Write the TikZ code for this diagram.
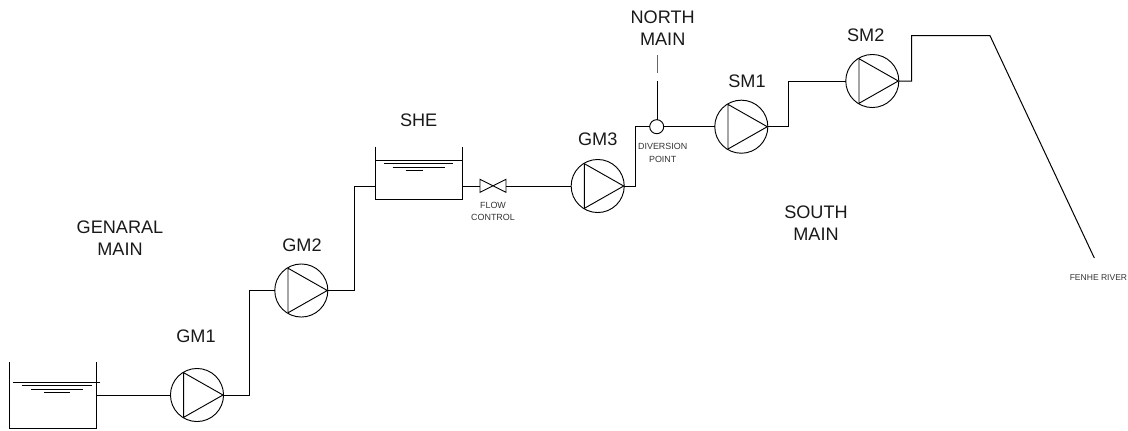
\documentclass[tikz,border=0pt]{standalone}
\usepackage{fontspec}
\setmainfont{Liberation Sans}
\tikzset{
  pipe/.style={line width=0.75pt,black,line join=miter},
  thinline/.style={line width=0.7pt,black},
  big/.style={font=\fontsize{13.6pt}{16.5pt}\selectfont,align=center,inner sep=0pt,text=black!90},
  small/.style={font=\fontsize{6.7pt}{9.5pt}\selectfont,align=center,inner sep=0pt,text=black!80},
  pumpbody/.style={circle,draw,line width=0.7pt,minimum size=39.8pt,inner sep=0pt,outer sep=0pt},
  tankbody/.style={rectangle,inner sep=0pt,outer sep=0pt,anchor=north west},
  junction/.style={circle,draw,line width=0.7pt,minimum size=10.5pt,inner sep=0pt,outer sep=0pt}
}
\newcommand{\pumpat}[3]{%
  \node[pumpbody] (#1) at (#2,#3) {};
  \draw[thinline,shift={(#2,#3)}] (-13.3,-22.3) -- (26,0) -- (-13.3,22.3) -- cycle;
}
\begin{document}
\begin{tikzpicture}[x=0.75pt,y=-0.75pt]
\clip (0,0) rectangle (1128,430);
% tanks
\node[tankbody,minimum width=65.5pt,minimum height=49.5pt] (t1) at (9.3,362) {};
\draw[pipe] (t1.north west) -- (t1.south west) -- (t1.south east) -- (t1.north east);
\draw[thinline] (13,382) -- (100,382);
\draw[thinline] (22,385.7) -- (92,385.7);
\draw[thinline] (31,389) -- (83,389);
\draw[thinline] (44,392.7) -- (70,392.7);
\node[tankbody,minimum width=65.25pt,minimum height=39.3pt] (t2) at (375.3,146.7) {};
\draw[pipe] (t2.north west) -- (t2.south west) -- (t2.south east) -- (t2.north east);
\draw[thinline] (375.3,160) -- (462.3,160);
\draw[thinline] (384,163.3) -- (453,163.3);
\draw[thinline] (392.7,167) -- (445,167);
\draw[thinline] (405.7,170.7) -- (423,170.7);
% pumps
\pumpat{gm1}{197}{395}
\pumpat{gm2}{301.3}{290.5}
\pumpat{gm3}{597.7}{186}
\pumpat{sm1}{741.3}{126.7}
\pumpat{sm2}{872.3}{81}
% valve
\coordinate (vl) at (480,186);
\coordinate (vr) at (506,186);
\draw[thinline] (480,179.3) -- (506,192.3) -- (506,179.3) -- (480,192.3) -- cycle;
% junction
\node[junction] (dp) at (656.7,126.7) {};
% pipes
\coordinate (j1) at (249,395);
\coordinate (j2) at (354,290.5);
\coordinate (j3) at (635,186);
\coordinate (j4) at (788.3,126.7);
\coordinate (j5) at (911.7,81);
\coordinate (r1) at (911.7,35.7);
\coordinate (r2) at (990,35.7);
\coordinate (r3) at (1094.3,258);
\coordinate (n1) at (657.7,120);
\coordinate (n2) at (657.7,81);
\coordinate (n3) at (657.7,73);
\coordinate (n4) at (657.7,55);
\draw[pipe] (t1.east |- gm1.west) -- (gm1.west);
\draw[pipe] (gm1.east) -- (j1) |- (gm2.west);
\draw[pipe] (gm2.east) -- (j2) |- (t2.west |- vl);
\draw[pipe] (t2.east |- vl) -- (vl);
\draw[pipe] (vr) -- (gm3.west);
\draw[pipe] (gm3.east) -- (j3) |- (dp.west);
\draw[pipe] (dp.east) -- (sm1.west);
\draw[pipe] (sm1.east) -- (j4) |- (sm2.west);
\draw[pipe] (sm2.east) -- (j5) -- (r1) -- (r2) -- (r3);
\draw[pipe] (n1) -- (n2);
\draw[thinline,black!60] (n3) -- (n4);
% labels
\node[big] (lgm1) at (196,336) {GM1};
\node[big] (lgm2) at (302,245) {GM2};
\node[big] (lgm3) at (597.7,139) {GM3};
\node[big] (lshe) at (418.7,120) {SHE};
\node[big] (lsm1) at (747,81) {SM1};
\node[big] (lsm2) at (865.7,35) {SM2};
\node[big] (lnm) at (662.7,28) {NORTH\\MAIN};
\node[big] (lgen) at (120,238) {GENARAL\\MAIN};
\node[big] (lsm) at (816,223) {SOUTH\\MAIN};
\node[small] (lfc) at (493,211.5) {FLOW\\CONTROL};
\node[small] (ldp) at (662.7,153) {DIVERSION\\POINT};
\node[small,font=\fontsize{6.4pt}{9.5pt}\selectfont,anchor=west] (lfr) at (1069.5,277.7) {FENHE RIVER};
\end{tikzpicture}
\end{document}
